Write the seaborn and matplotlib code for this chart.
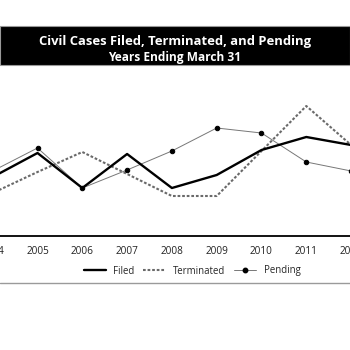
import matplotlib
matplotlib.use("Agg")
import matplotlib.pyplot as plt
from matplotlib.patches import Rectangle
from matplotlib.lines import Line2D
import numpy as np
import pandas as pd
import seaborn as sns

years = ["2004", "2005", "2006", "2007", "2008", "2009", "2010", "2011", "2012"]
filed = [59, 83, 48, 82, 48, 61, 86, 99, 91]
terminated = [43, 64, 84, 62, 40, 40, 85, 130, 91]
pending = [65, 88, 48, 66, 85, 108, 103, 74, 65]

sns.set_theme(style="white")
plt.rcParams["font.family"] = ["Open Sans", "DejaVu Sans"]

fig = plt.figure(figsize=(3.5, 3.5), dpi=100)
W, H = 350.0, 350.0

# Black title banner
fig.patches.append(Rectangle((0, 1 - 65 / H), 1, 39 / H, transform=fig.transFigure,
                             facecolor="black", edgecolor="#999999", lw=0.8, zorder=0))
fig.text(0.5, 1 - 42 / H, "Civil Cases Filed, Terminated, and Pending", color="white",
         ha="center", va="center", fontsize=9.4, fontweight="bold")
fig.text(0.5, 1 - 57 / H, "Years Ending March 31", color="white",
         ha="center", va="center", fontsize=8.6, fontweight="bold")

# The plotting area is wider than the canvas, so the first and last years sit at the edges
step = 44.8
left_px = 37.5 - 1.5 * step
width_px = 9 * step
ax = fig.add_axes([left_px / W, 1 - 236 / H, width_px / W, (236 - 70) / H])
ax.set_clip_on(False)
x = np.arange(len(years))
df = pd.DataFrame({"x": x, "Filed": filed, "Terminated": terminated, "Pending": pending})

sns.lineplot(data=df, x="x", y="Filed", ax=ax, color="black", lw=1.7, zorder=3)
sns.lineplot(data=df, x="x", y="Terminated", ax=ax, color="#6a6a6a", lw=1.5,
             linestyle=(0, (1.3, 0.9)), zorder=2)
sns.lineplot(data=df, x="x", y="Pending", ax=ax, color="#777777", lw=0.7,
             marker="o", markersize=3.2, markerfacecolor="black",
             markeredgecolor="black", zorder=2)

ax.set_xlabel("")
ax.set_ylabel("")
ax.set_yticks([])
ax.set_xticks(x)
ax.set_xticklabels(years, fontsize=7.2, color="#222222")
ax.set_xticks(np.arange(-0.5, len(years)), minor=True)
ax.tick_params(axis="x", which="major", length=0, pad=7)
ax.tick_params(axis="x", which="minor", length=5, width=1.2, color="black", direction="inout")
ax.set_xlim(-0.5, len(years) - 0.5)
ax.set_ylim(0, 166)
for s in ["top", "left", "right"]:
    ax.spines[s].set_visible(False)
ax.spines["bottom"].set_color("black")
ax.spines["bottom"].set_linewidth(1.3)
ax.patch.set_alpha(0)

handles = [
    Line2D([], [], color="black", lw=1.7),
    Line2D([], [], color="#6a6a6a", lw=1.5, linestyle=(0, (1.3, 0.9))),
    Line2D([], [], color="#777777", lw=0.7, marker="o", markersize=3.2,
           markerfacecolor="black", markeredgecolor="black"),
]
fig.legend(handles, ["Filed", "Terminated", "Pending"], loc="center",
           bbox_to_anchor=(0.549, 1 - 271 / H), ncol=3, frameon=False,
           fontsize=6.9, handlelength=2.3, columnspacing=0.9, handletextpad=0.8)

fig.add_artist(Line2D([0, 1], [1 - 283 / H, 1 - 283 / H], transform=fig.transFigure,
                      color="#9a9a9a", lw=1.0))

fig.savefig("out.png", dpi=100, facecolor="white")
